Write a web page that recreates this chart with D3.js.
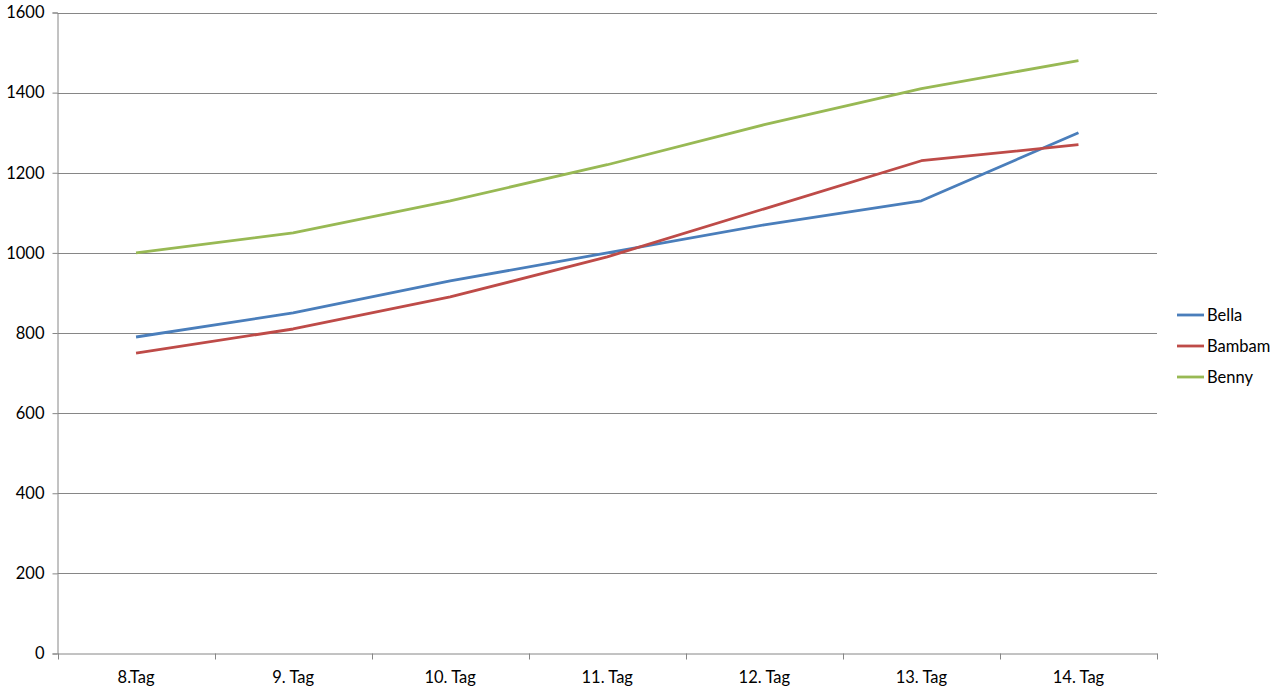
<!DOCTYPE html>
<html><head><meta charset="utf-8">
<script src="https://cdn.jsdelivr.net/npm/d3@7"></script>
<style>body{margin:0;background:#fff;} text{font-family:Lato,"Open Sans",sans-serif;}</style>
</head><body>
<svg id="c" width="1279" height="694"></svg>
<script>
const categories = ["8.Tag","9. Tag","10. Tag","11. Tag","12. Tag","13. Tag","14. Tag"];
const bella  = [790, 850, 930, 1000, 1070, 1130, 1300];
const bambam = [750, 810, 890, 990, 1110, 1230, 1270];
const benny  = [1000, 1050, 1130, 1220, 1320, 1410, 1480];
const seriesNames = ["Bella","Bambam","Benny"];
const yTicks = [0,200,400,600,800,1000,1200,1400,1600];

const colors = ["#4A7EBB","#BE4B48","#98B954"];
const seriesData = [bella, bambam, benny];

const svg = d3.select("#c");
const L=57.5, R=1157, T=12.5, B=653.5;
const x = d3.scaleBand().domain(categories).range([L,R]);
const y = d3.scaleLinear().domain([0,1600]).range([B,T]);

// gridlines
svg.append("g").selectAll("line").data(yTicks.filter(d=>d>0)).join("line")
  .attr("x1",L).attr("x2",R).attr("y1",d=>Math.round(y(d))+0.5).attr("y2",d=>Math.round(y(d))+0.5)
  .attr("stroke","#868686").attr("stroke-width",1);

// y axis
const ya = svg.append("g").attr("transform",`translate(${L},0)`)
  .call(d3.axisLeft(y).tickValues(yTicks).tickSize(5).tickPadding(8).tickFormat(d3.format("d")));
ya.select(".domain").attr("stroke","#868686");
ya.selectAll(".tick line").attr("stroke","#868686");
ya.selectAll("text").attr("font-size",16.5).attr("fill","#000").attr("font-family","Lato,'Open Sans',sans-serif");

// x axis
const xa = svg.append("g").attr("transform",`translate(0,${B})`)
  .call(d3.axisBottom(x).tickSize(0).tickPadding(18));
xa.select(".domain").attr("stroke","#868686");
xa.selectAll(".tick text").attr("font-size",16.5).attr("fill","#000").attr("font-family","Lato,'Open Sans',sans-serif");
// category boundary ticks
const bounds = categories.map(c=>x(c)).concat([x.range()[1]]);
svg.append("g").selectAll("line").data(bounds).join("line")
  .attr("x1",d=>Math.round(d)+0.5).attr("x2",d=>Math.round(d)+0.5)
  .attr("y1",B).attr("y2",B+6).attr("stroke","#868686");

// lines
const line = d3.line().x((d,i)=>x(categories[i])+x.bandwidth()/2).y(d=>y(d));
svg.append("g").selectAll("path").data(seriesData).join("path")
  .attr("d",line).attr("fill","none").attr("stroke",(d,i)=>colors[i])
  .attr("stroke-width",2.8).attr("stroke-linejoin","round");

// legend
const lg = svg.append("g").selectAll("g").data(seriesNames).join("g")
  .attr("transform",(d,i)=>`translate(1177,${315+i*31})`);
lg.append("line").attr("x1",0).attr("x2",27).attr("y1",0).attr("y2",0)
  .attr("stroke",(d,i)=>colors[i]).attr("stroke-width",2.8);
lg.append("text").attr("x",30).attr("y",0).attr("dy","0.35em").attr("font-size",16.5).text(d=>d);
</script>
</body></html>
